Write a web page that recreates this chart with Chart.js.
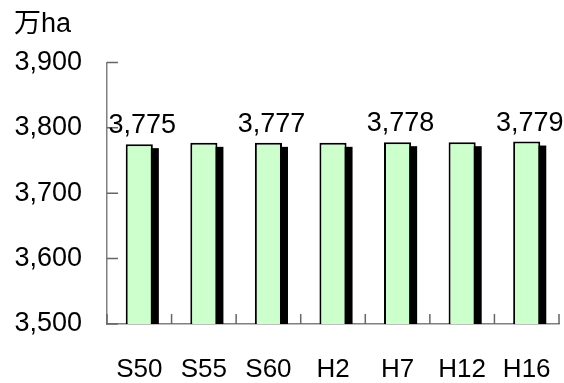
<!DOCTYPE html>
<html>
<head>
<meta charset="UTF-8">
<title>国土面積</title>
<script src="https://cdn.jsdelivr.net/npm/chart.js"></script>
<style>
  html, body { margin: 0; padding: 0; background: #fff; }
  #wrap { width: 564px; height: 383px; }
</style>
</head>
<body>
<div id="wrap"><canvas id="areaChart"></canvas></div>
<script>
  // --- data ---
  const categories = ['S50', 'S55', 'S60', 'H2', 'H7', 'H12', 'H16'];
  const areaValues = [3775, 3777, 3777, 3777, 3778, 3778, 3779];
  const labelledIdx = [0, 2, 4, 6]; // bars that carry a value label
  const yMin = 3500;
  const yMax = 3900;
  const yStep = 100;

  const FONT = "'Liberation Sans', Arial, 'Noto Sans CJK JP', sans-serif";
  const fmt = v => v.toLocaleString('en-US');

  // shadow behind bars, inward tick marks, value labels
  const decor = {
    id: 'decor',
    beforeDatasetsDraw(chart) {
      const ctx = chart.ctx;
      const bottom = chart.chartArea.bottom;
      ctx.save();
      ctx.fillStyle = '#000';
      chart.getDatasetMeta(0).data.forEach(bar => {
        const { x, y, width } = bar.getProps(['x', 'y', 'width'], true);
        ctx.fillRect(x - width / 2 + 6, y + 4, width, bottom - y - 4);
      });
      ctx.restore();
    },
    afterDatasetsDraw(chart) {
      const ctx = chart.ctx;
      const xs = chart.scales.x, ys = chart.scales.y;
      const area = chart.chartArea;
      ctx.save();
      ctx.strokeStyle = '#666';
      ctx.lineWidth = 1.5;
      ctx.beginPath();
      // y ticks point into the plot
      ys.ticks.forEach(t => {
        const py = ys.getPixelForValue(t.value);
        ctx.moveTo(area.left, py);
        ctx.lineTo(area.left + 11, py);
      });
      // x ticks between categories, pointing up
      const half = (xs.getPixelForValue(1) - xs.getPixelForValue(0)) / 2;
      for (let i = 0; i <= categories.length; i++) {
        const px = xs.getPixelForValue(i) - half;
        ctx.moveTo(px, area.bottom);
        ctx.lineTo(px, area.bottom - 10);
      }
      ctx.stroke();

      // value labels
      ctx.fillStyle = '#000';
      ctx.font = '27px ' + FONT;
      ctx.textAlign = 'center';
      ctx.textBaseline = 'alphabetic';
      const meta = chart.getDatasetMeta(0);
      labelledIdx.forEach(i => {
        const bar = meta.data[i];
        ctx.fillText(fmt(areaValues[i]), bar.x + 3, bar.y - 11);
      });
      ctx.restore();
    }
  };

  new Chart(document.getElementById('areaChart'), {
    type: 'bar',
    data: {
      labels: categories,
      datasets: [{
        data: areaValues,
        backgroundColor: '#ccffcc',
        borderColor: '#000',
        borderWidth: 2,
        barPercentage: 0.42,
        categoryPercentage: 1.0,
      }]
    },
    options: {
      responsive: true,
      maintainAspectRatio: false,
      animation: false,
      layout: { padding: { left: 14, right: 5, top: 0, bottom: 0 } },
      plugins: {
        legend: { display: false },
        tooltip: { enabled: false },
        title: {
          display: true,
          text: '万ha',
          align: 'start',
          color: '#000',
          font: { family: FONT, size: 27, weight: 'normal', lineHeight: 1.2 },
          padding: { top: 8, bottom: 22 },
        },
      },
      scales: {
        x: {
          grid: { display: false, drawTicks: false },
          border: { color: '#808080', width: 1.5 },
          ticks: { color: '#000', font: { family: FONT, size: 26 }, padding: 30, maxRotation: 0 },
          afterFit: s => { s.height = 59; s.paddingLeft = 0; s.paddingRight = 0; },
        },
        y: {
          min: yMin,
          max: yMax,
          grid: { display: false, drawTicks: false },
          border: { color: '#808080', width: 1.5 },
          ticks: {
            stepSize: yStep,
            color: '#000',
            font: { family: FONT, size: 27 },
            padding: 25,
            callback: v => fmt(v),
          },
          afterFit: s => { s.width = 93; s.paddingTop = 0; s.paddingBottom = 0; },
        }
      }
    },
    plugins: [decor]
  });
</script>
</body>
</html>
